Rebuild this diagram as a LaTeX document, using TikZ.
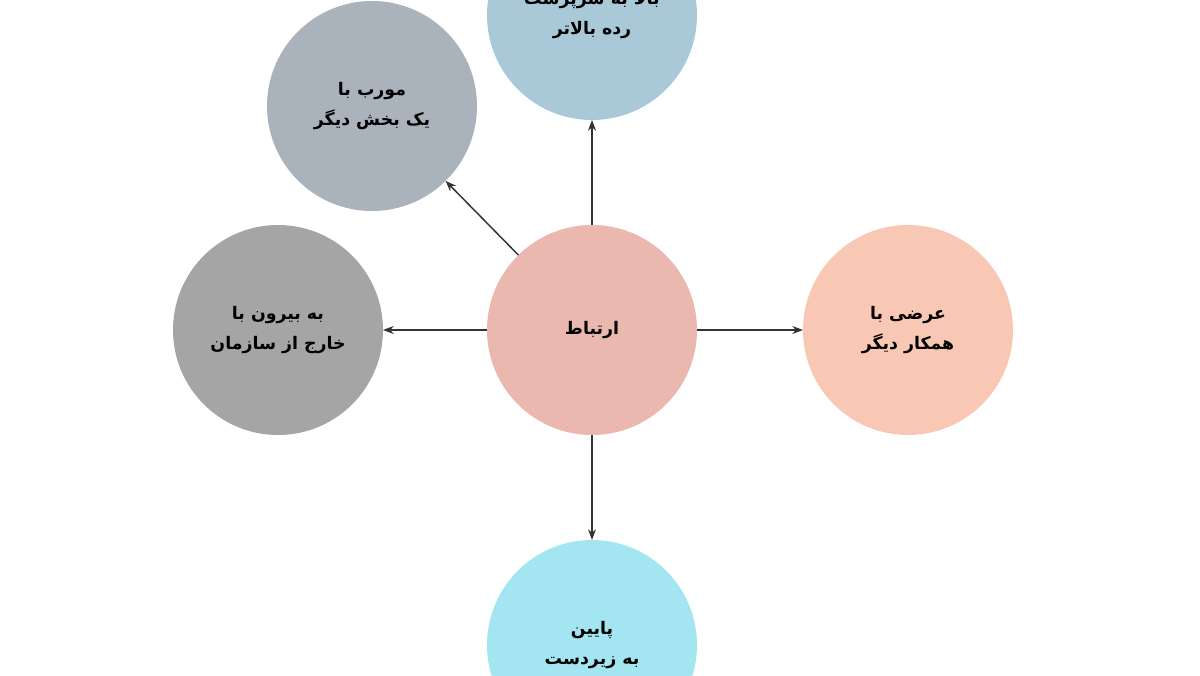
\documentclass[tikz,border=0pt]{standalone}
\usepackage{fontspec}
\usetikzlibrary{arrows.meta}
\newfontfamily\arabicfont[Script=Arabic]{DejaVu Sans}
\TeXXeTstate=1
\definecolor{cCenter}{HTML}{EBB8AF}
\definecolor{cTop}{HTML}{A9C9D9}
\definecolor{cTopLeft}{HTML}{AAB2BC}
\definecolor{cLeft}{HTML}{A5A5A6}
\definecolor{cRight}{HTML}{F8C8B4}
\definecolor{cBottom}{HTML}{A3E5F0}
\definecolor{cArrow}{HTML}{333333}
\tikzset{
  bubble/.style={circle, minimum size=157.5pt, inner sep=0pt, outer sep=0pt,
    align=center, font=\arabicfont\bfseries\fontsize{13}{22}\selectfont, text=black},
  link/.style={draw=cArrow, line width=1.1pt, -{Stealth[length=8pt,width=6pt]}}
}
\begin{document}
\begin{tikzpicture}[x=0.75pt,y=-0.75pt]
\clip (0,0) rectangle (1200,675);
\fill[white] (0,0) rectangle (1200,675);
\node[bubble, fill=cCenter] (c) at (592,330) {\beginR ارتباط\endR};
\node[bubble, fill=cTop] (t) at (592,15) {\beginR بالا به سرپرست\endR\\\beginR رده بالاتر\endR};
\node[bubble, fill=cTopLeft] (tl) at (372,106) {\beginR مورب با\endR\\\beginR یک بخش دیگر\endR};
\node[bubble, fill=cLeft] (l) at (278,330) {\beginR به بیرون با\endR\\\beginR خارج از سازمان\endR};
\node[bubble, fill=cRight] (r) at (908,330) {\beginR عرضی با\endR\\\beginR همکار دیگر\endR};
\node[bubble, fill=cBottom] (b) at (592,645) {\beginR پایین\endR\\\beginR به زیردست\endR};
\draw[link] (c) -- (t);
\draw[link] (c) -- (tl);
\draw[link] (c) -- (l);
\draw[link] (c) -- (r);
\draw[link] (c) -- (b);
\end{tikzpicture}
\end{document}
